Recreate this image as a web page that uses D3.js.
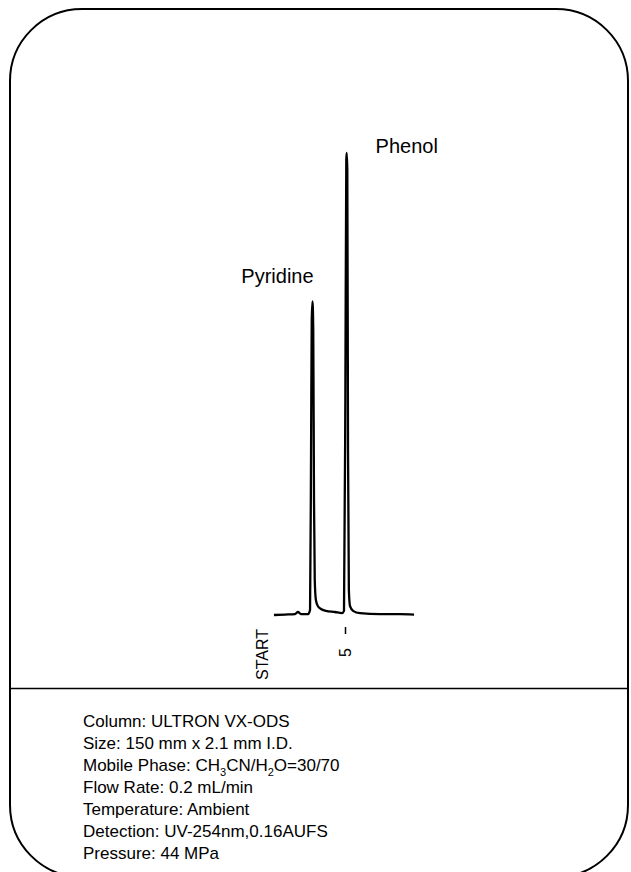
<!DOCTYPE html>
<html>
<head>
<meta charset="utf-8">
<script src="https://cdn.jsdelivr.net/npm/d3@7"></script>
<style>
  html, body { margin: 0; padding: 0; background: #fff; }
  svg { display: block; }
  text { font-family: "Liberation Sans", Arial, sans-serif; fill: #000; }
</style>
</head>
<body>
<svg id="chart" width="631" height="872"></svg>
<script>
// Chromatogram trace: retention time (min) and detector response (% of tallest peak)
const traceTime = [0.77, 1.43, 2.02, 2.20, 2.38, 2.80, 2.92, 2.98, 3.02, 3.065, 3.11, 3.155, 3.20, 3.27, 3.39, 3.57, 3.87, 4.40, 4.82, 4.94, 5.02, 5.077, 5.101, 5.137, 5.18, 5.23, 5.30, 5.48, 5.89, 7.08, 8.27, 9.11];
const traceSignal = [0.0, 0.1, 0.2, 0.65, 0.2, 0.2, 1.1, 35.7, 63.9, 67.9, 61.7, 24.9, 7.6, 3.2, 1.9, 1.3, 0.9, 0.65, 0.4, 0.9, 46.5, 98.5, 100, 96.3, 35.7, 5.4, 1.9, 0.9, 0.4, 0.2, 0.2, 0.1];

// Peak identities
const peakNames = ["Pyridine", "Phenol"];
const peakTimes = [3.065, 5.101];
const peakHeights = [67.9, 100];

// Time axis ticks
const tickTimes = [5];
const startLabel = "START";

// Operating conditions
const conditions = [
  [{t: "Column: ULTRON VX-ODS"}],
  [{t: "Size: 150 mm x 2.1 mm I.D."}],
  [{t: "Mobile Phase: CH"}, {t: "3", sub: true}, {t: "CN/H"}, {t: "2", sub: true}, {t: "O=30/70"}],
  [{t: "Flow Rate: 0.2 mL/min"}],
  [{t: "Temperature: Ambient"}],
  [{t: "Detection: UV-254nm,0.16AUFS"}],
  [{t: "Pressure: 44 MPa"}]
];

const svg = d3.select("#chart");

// Rounded outer frame and the divider above the conditions
svg.append("rect")
  .attr("x", 10).attr("y", 9)
  .attr("width", 618).attr("height", 868)
  .attr("rx", 72).attr("ry", 72)
  .attr("fill", "none").attr("stroke", "#000").attr("stroke-width", 2);

svg.append("line")
  .attr("x1", 10).attr("x2", 628)
  .attr("y1", 688.5).attr("y2", 688.5)
  .attr("stroke", "#000").attr("stroke-width", 1.5);

// Scales
const x = d3.scaleLinear().domain([0, 10]).range([261, 429]);
const y = d3.scaleLinear().domain([0, 100]).range([615, 153]);

const points = traceTime.map((t, i) => [t, traceSignal[i]]);

const line = d3.line()
  .x(d => x(d[0]))
  .y(d => y(d[1]))
  .curve(d3.curveMonotoneX);

svg.append("path")
  .datum(points)
  .attr("d", line)
  .attr("fill", "none")
  .attr("stroke", "#000")
  .attr("stroke-width", 2.3)
  .attr("stroke-linejoin", "round");

// Time axis with a single tick, labels turned upright
const axis = d3.axisBottom(x)
  .tickValues(tickTimes)
  .tickSize(7)
  .tickFormat(d3.format("d"));

const gAxis = svg.append("g")
  .attr("transform", "translate(0,627)")
  .call(axis);

gAxis.select(".domain").remove();
gAxis.selectAll(".tick line").attr("stroke", "#000").attr("stroke-width", 1.5);
gAxis.selectAll(".tick text")
  .attr("transform", "rotate(-90)")
  .attr("x", -21)
  .attr("y", 0)
  .attr("dy", "0.35em")
  .attr("text-anchor", "end")
  .attr("font-size", 16)
  .attr("font-family", "Liberation Sans, Arial, sans-serif")
  .attr("fill", "#000");

svg.append("text")
  .attr("transform", `translate(${x(0) + 1},629) rotate(-90)`)
  .attr("dy", "0.35em")
  .attr("text-anchor", "end")
  .attr("font-size", 16)
  .text(startLabel);

// Peak labels
const labelOffsets = [{dx: -35, dy: -18}, {dx: 60, dy: 0}];
svg.selectAll(".peak-label")
  .data(peakNames)
  .join("text")
  .attr("class", "peak-label")
  .attr("x", (d, i) => x(peakTimes[i]) + labelOffsets[i].dx)
  .attr("y", (d, i) => y(peakHeights[i]) + labelOffsets[i].dy)
  .attr("text-anchor", "middle")
  .attr("font-size", 20)
  .text(d => d);

// Conditions block
const cond = svg.append("g").attr("font-size", 17);
conditions.forEach((parts, i) => {
  const t = cond.append("text")
    .attr("x", 83)
    .attr("y", 727 + i * 22);
  parts.forEach(p => {
    const s = t.append("tspan").text(p.t);
    if (p.sub) {
      s.attr("font-size", 11).attr("dy", 5);
    } else if (t.selectAll("tspan").size() > 1) {
      s.attr("dy", -5);
    }
  });
});
</script>
</body>
</html>
